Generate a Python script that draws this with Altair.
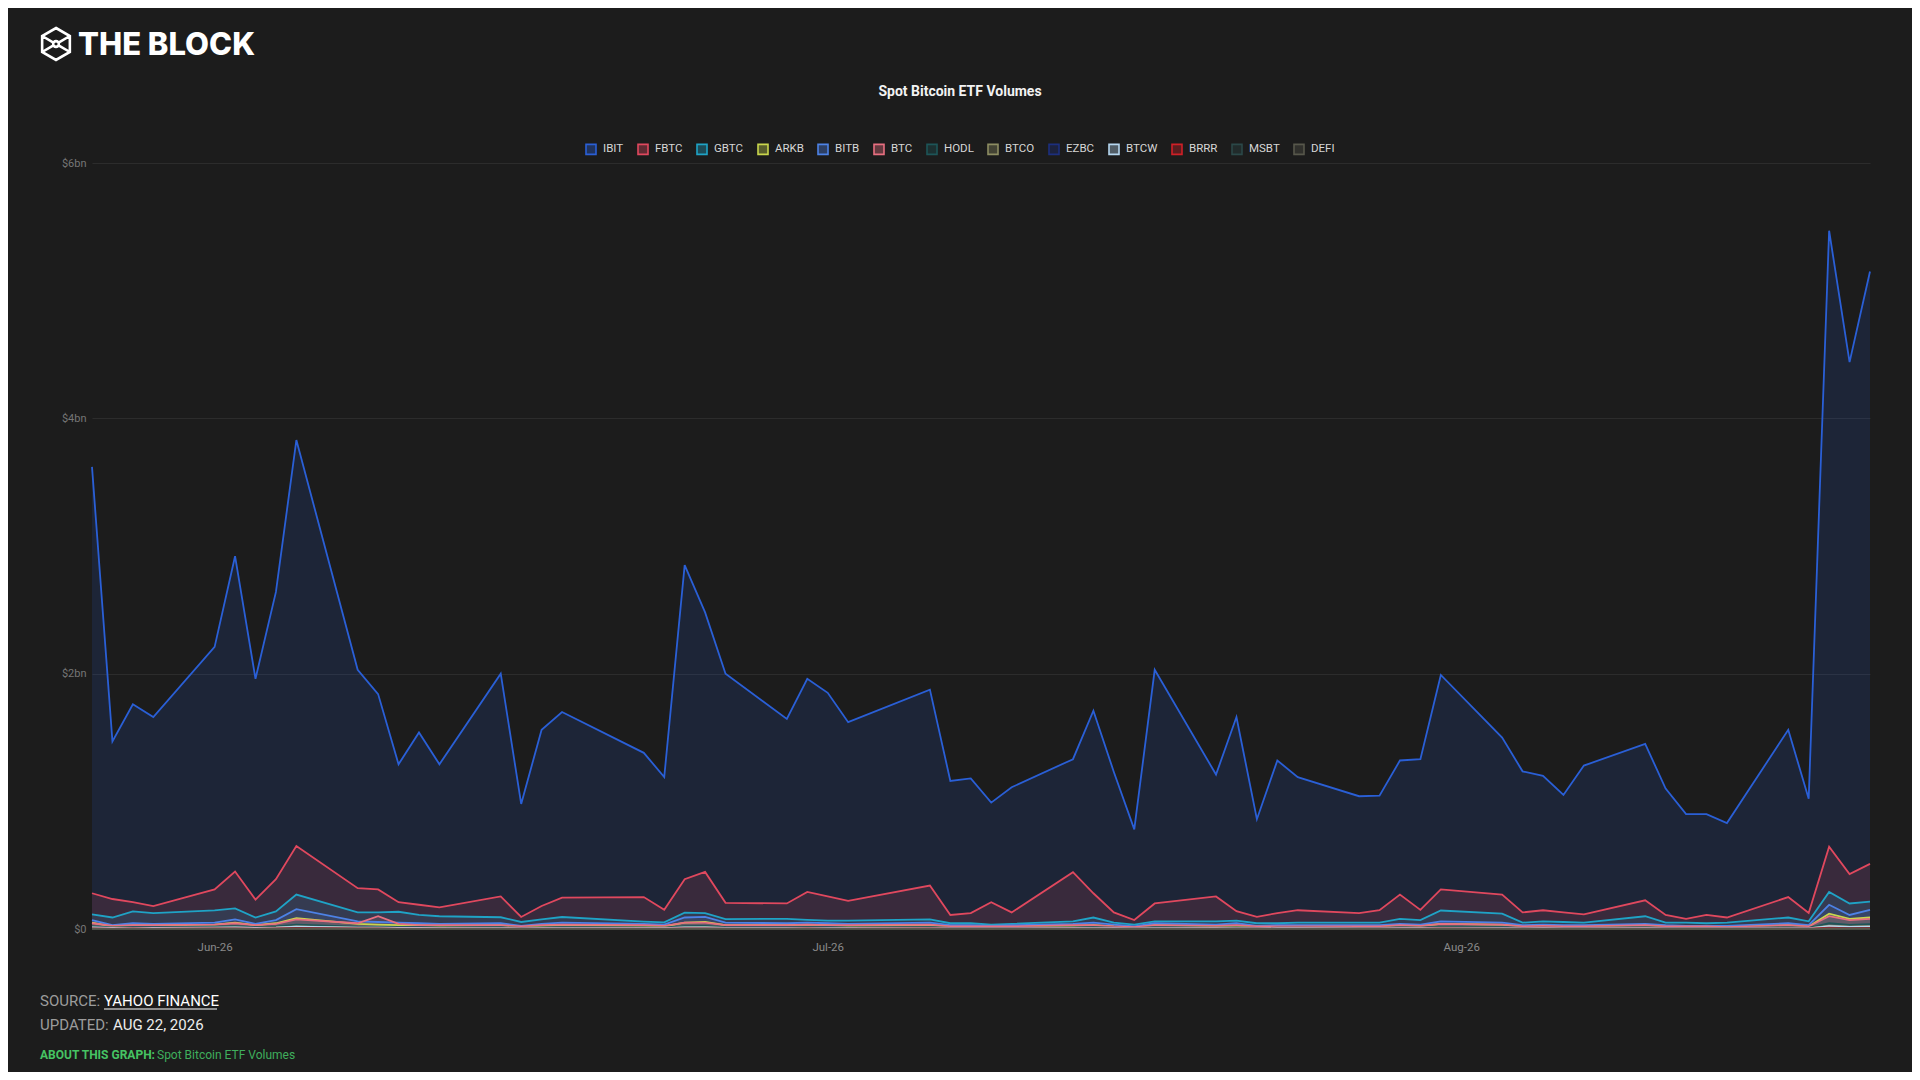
import altair as alt
import pandas as pd

# ---------------- data (values in $bn) ----------------
dates = [
    "2026-05-26", "2026-05-27", "2026-05-28", "2026-05-29",
    "2026-06-01", "2026-06-02", "2026-06-03", "2026-06-04", "2026-06-05",
    "2026-06-08", "2026-06-09", "2026-06-10", "2026-06-11", "2026-06-12",
    "2026-06-15", "2026-06-16", "2026-06-17", "2026-06-18",
    "2026-06-22", "2026-06-23", "2026-06-24", "2026-06-25", "2026-06-26",
    "2026-06-29", "2026-06-30",
    "2026-07-01", "2026-07-02",
    "2026-07-06", "2026-07-07", "2026-07-08", "2026-07-09", "2026-07-10",
    "2026-07-13", "2026-07-14", "2026-07-15", "2026-07-16", "2026-07-17",
    "2026-07-20", "2026-07-21", "2026-07-22", "2026-07-23", "2026-07-24",
    "2026-07-27", "2026-07-28", "2026-07-29", "2026-07-30", "2026-07-31",
    "2026-08-03", "2026-08-04", "2026-08-05", "2026-08-06", "2026-08-07",
    "2026-08-10", "2026-08-11", "2026-08-12", "2026-08-13", "2026-08-14",
    "2026-08-17", "2026-08-18", "2026-08-19", "2026-08-20", "2026-08-21",
]

etfs = ["IBIT", "FBTC", "GBTC", "ARKB", "BITB", "BTC", "HODL",
        "BTCO", "EZBC", "BTCW", "BRRR", "MSBT", "DEFI"]
colors = ["#2a5fd6", "#e0485e", "#1fa3c6", "#c9d64c", "#4d82e6", "#e86f80", "#1d5558",
          "#8d8d62", "#1c2f7e", "#b5d6ef", "#cf2027", "#2b4848", "#57574b"]

ibit = [3.62, 1.47, 1.76, 1.66,
        2.21, 2.92, 1.96, 2.64, 3.83,
        2.03, 1.84, 1.29, 1.54, 1.29,
        2.00, 0.98, 1.56, 1.70,
        1.38, 1.19, 2.85, 2.48, 2.00,
        1.645, 1.96,
        1.85, 1.62,
        1.875, 1.16, 1.18, 0.99, 1.11,
        1.33, 1.71, 1.23, 0.78, 2.03,
        1.21, 1.66, 0.86, 1.32, 1.19,
        1.04, 1.045, 1.32, 1.33, 1.99,
        1.50, 1.235, 1.20, 1.05, 1.28,
        1.45, 1.10, 0.90, 0.90, 0.83,
        1.56, 1.02, 5.47, 4.44, 5.15]

fbtc = [0.28, 0.235, 0.21, 0.18,
        0.31, 0.45, 0.23, 0.39, 0.65,
        0.32, 0.31, 0.21, 0.19, 0.17,
        0.255, 0.094, 0.18, 0.245,
        0.25, 0.15, 0.39, 0.447, 0.205,
        0.20, 0.29,
        0.255, 0.22,
        0.34, 0.11, 0.125, 0.21, 0.13,
        0.445, 0.28, 0.13, 0.07, 0.20,
        0.255, 0.14, 0.095, 0.125, 0.147,
        0.125, 0.147, 0.27, 0.15, 0.31,
        0.27, 0.13, 0.147, 0.13, 0.115,
        0.225, 0.11, 0.08, 0.11, 0.09,
        0.25, 0.125, 0.645, 0.43, 0.51]

gbtc = [0.115, 0.09, 0.138, 0.125,
        0.146, 0.162, 0.09, 0.138, 0.27,
        0.13, 0.13, 0.135, 0.11, 0.10,
        0.092, 0.055, 0.075, 0.094,
        0.058, 0.052, 0.128, 0.125, 0.078,
        0.08, 0.072,
        0.066, 0.065,
        0.075, 0.045, 0.045, 0.035, 0.04,
        0.06, 0.09, 0.05, 0.035, 0.06,
        0.06, 0.065, 0.045, 0.045, 0.05,
        0.05, 0.05, 0.08, 0.07, 0.145,
        0.12, 0.05, 0.06, 0.055, 0.05,
        0.10, 0.05, 0.05, 0.045, 0.05,
        0.09, 0.06, 0.29, 0.20, 0.215]

arkb = [0.05, 0.02, 0.03, 0.03,
        0.035, 0.05, 0.03, 0.045, 0.085,
        0.04, 0.035, 0.03, 0.03, 0.025,
        0.03, 0.015, 0.025, 0.03,
        0.025, 0.02, 0.05, 0.055, 0.03,
        0.03, 0.035,
        0.03, 0.025,
        0.03, 0.02, 0.02, 0.015, 0.02,
        0.025, 0.03, 0.02, 0.015, 0.03,
        0.02, 0.025, 0.015, 0.02, 0.02,
        0.02, 0.02, 0.03, 0.025, 0.04,
        0.035, 0.02, 0.02, 0.02, 0.02,
        0.03, 0.02, 0.015, 0.015, 0.015,
        0.03, 0.02, 0.12, 0.08, 0.09]

bitb = [0.07, 0.03, 0.045, 0.04,
        0.05, 0.075, 0.04, 0.07, 0.155,
        0.06, 0.055, 0.05, 0.045, 0.04,
        0.045, 0.025, 0.04, 0.05,
        0.04, 0.035, 0.09, 0.095, 0.05,
        0.045, 0.05,
        0.045, 0.04,
        0.05, 0.03, 0.03, 0.025, 0.03,
        0.04, 0.05, 0.035, 0.02, 0.045,
        0.035, 0.045, 0.025, 0.03, 0.03,
        0.03, 0.03, 0.04, 0.035, 0.06,
        0.05, 0.03, 0.035, 0.03, 0.03,
        0.04, 0.03, 0.025, 0.025, 0.025,
        0.045, 0.03, 0.19, 0.11, 0.15]

btc = [0.045, 0.025, 0.03, 0.03,
       0.035, 0.045, 0.03, 0.04, 0.075,
       0.045, 0.10, 0.04, 0.03, 0.03,
       0.03, 0.02, 0.03, 0.035,
       0.03, 0.025, 0.05, 0.05, 0.03,
       0.03, 0.035,
       0.03, 0.03,
       0.035, 0.02, 0.02, 0.02, 0.02,
       0.03, 0.03, 0.02, 0.015, 0.03,
       0.025, 0.03, 0.02, 0.02, 0.02,
       0.02, 0.02, 0.03, 0.025, 0.04,
       0.035, 0.02, 0.025, 0.02, 0.02,
       0.03, 0.02, 0.02, 0.02, 0.015,
       0.03, 0.02, 0.10, 0.07, 0.08]

hodl = [0.02, 0.012, 0.015, 0.014,
        0.018, 0.022, 0.014, 0.02, 0.035,
        0.018, 0.017, 0.014, 0.014, 0.012,
        0.014, 0.008, 0.012, 0.014,
        0.012, 0.01, 0.022, 0.024, 0.014,
        0.013, 0.015,
        0.014, 0.012,
        0.015, 0.009, 0.009, 0.008, 0.009,
        0.012, 0.014, 0.01, 0.007, 0.014,
        0.01, 0.012, 0.008, 0.01, 0.01,
        0.009, 0.009, 0.012, 0.011, 0.016,
        0.014, 0.009, 0.01, 0.009, 0.009,
        0.012, 0.009, 0.008, 0.008, 0.007,
        0.013, 0.009, 0.045, 0.032, 0.038]

btco = [0.012, 0.007, 0.009, 0.008,
        0.01, 0.013, 0.008, 0.012, 0.02,
        0.011, 0.01, 0.008, 0.008, 0.007,
        0.008, 0.005, 0.007, 0.008,
        0.007, 0.006, 0.013, 0.014, 0.008,
        0.008, 0.009,
        0.008, 0.007,
        0.009, 0.005, 0.005, 0.005, 0.005,
        0.007, 0.008, 0.006, 0.004, 0.008,
        0.006, 0.007, 0.005, 0.006, 0.006,
        0.005, 0.005, 0.007, 0.006, 0.01,
        0.008, 0.005, 0.006, 0.005, 0.005,
        0.007, 0.005, 0.005, 0.005, 0.004,
        0.008, 0.005, 0.026, 0.019, 0.022]

ezbc = [0.006, 0.004, 0.005, 0.004,
        0.005, 0.007, 0.004, 0.006, 0.011,
        0.006, 0.005, 0.004, 0.004, 0.004,
        0.004, 0.003, 0.004, 0.004,
        0.004, 0.003, 0.007, 0.007, 0.004,
        0.004, 0.005,
        0.004, 0.004,
        0.005, 0.003, 0.003, 0.003, 0.003,
        0.004, 0.004, 0.003, 0.002, 0.004,
        0.003, 0.004, 0.003, 0.003, 0.003,
        0.003, 0.003, 0.004, 0.003, 0.005,
        0.004, 0.003, 0.003, 0.003, 0.003,
        0.004, 0.003, 0.003, 0.003, 0.002,
        0.004, 0.003, 0.014, 0.010, 0.012]

btcw = [0.012, 0.008, 0.009, 0.009,
        0.01, 0.012, 0.008, 0.011, 0.018,
        0.01, 0.01, 0.008, 0.008, 0.007,
        0.008, 0.005, 0.007, 0.008,
        0.007, 0.006, 0.012, 0.012, 0.008,
        0.008, 0.008,
        0.008, 0.007,
        0.008, 0.005, 0.005, 0.005, 0.005,
        0.007, 0.008, 0.006, 0.004, 0.008,
        0.006, 0.007, 0.005, 0.006, 0.006,
        0.005, 0.005, 0.007, 0.006, 0.009,
        0.008, 0.005, 0.006, 0.005, 0.005,
        0.007, 0.005, 0.005, 0.005, 0.004,
        0.007, 0.005, 0.022, 0.016, 0.019]

brrr = [0.005, 0.003, 0.004, 0.003,
        0.004, 0.005, 0.003, 0.005, 0.008,
        0.004, 0.004, 0.003, 0.003, 0.003,
        0.003, 0.002, 0.003, 0.003,
        0.003, 0.002, 0.005, 0.005, 0.003,
        0.003, 0.004,
        0.003, 0.003,
        0.004, 0.002, 0.002, 0.002, 0.002,
        0.003, 0.003, 0.002, 0.002, 0.003,
        0.002, 0.003, 0.002, 0.002, 0.002,
        0.002, 0.002, 0.003, 0.003, 0.004,
        0.003, 0.002, 0.002, 0.002, 0.002,
        0.003, 0.002, 0.002, 0.002, 0.002,
        0.003, 0.002, 0.010, 0.007, 0.008]

msbt = [0.002, 0.001, 0.002, 0.001,
        0.002, 0.002, 0.001, 0.002, 0.004,
        0.002, 0.002, 0.001, 0.001, 0.001,
        0.002, 0.001, 0.001, 0.002,
        0.001, 0.001, 0.003, 0.003, 0.002,
        0.002, 0.002,
        0.002, 0.001,
        0.002, 0.001, 0.001, 0.001, 0.001,
        0.001, 0.002, 0.001, 0.001, 0.002,
        0.001, 0.002, 0.001, 0.001, 0.001,
        0.001, 0.001, 0.001, 0.001, 0.002,
        0.002, 0.001, 0.001, 0.001, 0.001,
        0.001, 0.001, 0.001, 0.001, 0.001,
        0.002, 0.001, 0.005, 0.004, 0.004]

defi = [0.0004, 0.0002, 0.0003, 0.0002,
        0.0003, 0.0004, 0.0002, 0.0003, 0.0006,
        0.0003, 0.0003, 0.0002, 0.0002, 0.0002,
        0.0003, 0.0001, 0.0002, 0.0002,
        0.0002, 0.0002, 0.0004, 0.0004, 0.0002,
        0.0002, 0.0003,
        0.0002, 0.0002,
        0.0003, 0.0002, 0.0002, 0.0001, 0.0002,
        0.0002, 0.0002, 0.0002, 0.0001, 0.0003,
        0.0002, 0.0002, 0.0001, 0.0002, 0.0002,
        0.0002, 0.0002, 0.0002, 0.0002, 0.0003,
        0.0002, 0.0002, 0.0002, 0.0002, 0.0001,
        0.0002, 0.0002, 0.0001, 0.0001, 0.0001,
        0.0002, 0.0002, 0.0008, 0.0005, 0.0006]

series = {"IBIT": ibit, "FBTC": fbtc, "GBTC": gbtc, "ARKB": arkb, "BITB": bitb,
          "BTC": btc, "HODL": hodl, "BTCO": btco, "EZBC": ezbc, "BTCW": btcw,
          "BRRR": brrr, "MSBT": msbt, "DEFI": defi}

y_ticks = [0, 2, 4, 6]
x_ticks = ["2026-06-01", "2026-07-01", "2026-08-01"]

rows = []
for name in etfs:
    for d, v in zip(dates, series[name]):
        rows.append({"date": d, "ETF": name, "volume": v})
df = pd.DataFrame(rows)


def ms(s):
    return int(pd.Timestamp(s, tz="UTC").value // 1_000_000)


FONT = "Roboto"
BG = "#1c1c1c"

x_enc = alt.X(
    "date:T",
    scale=alt.Scale(type="utc", domain=[ms(dates[0]), ms(dates[-1])], nice=False),
    axis=alt.Axis(values=[ms(t) for t in x_ticks], format="%b-%y", title=None,
                  labelColor="#8a8a8a", labelFontSize=11.5, labelFont=FONT,
                  ticks=False, domain=False, grid=False, labelPadding=12),
)
y_enc = alt.Y(
    "volume:Q", stack=None,
    scale=alt.Scale(domain=[0, 6], nice=False),
    axis=alt.Axis(values=y_ticks, title=None,
                  labelExpr="datum.value == 0 ? '$0' : '$' + datum.value + 'bn'",
                  labelColor="#767676", labelFontSize=11, labelFont=FONT,
                  ticks=False, domain=False, grid=True, gridColor="#2c2c2c",
                  labelPadding=6),
)
color_scale = alt.Scale(domain=etfs, range=colors)

LEG = dict(orient="none", direction="horizontal", legendX=493, legendY=-20,
           title=None, symbolType="square", symbolSize=100, symbolStrokeWidth=1.6,
           labelFontSize=11.5, labelFont=FONT, labelColor="#d6d6d6",
           columnPadding=10, labelOffset=6)

area = alt.Chart(df).mark_area(fillOpacity=0.15).encode(
    x=x_enc, y=y_enc,
    fill=alt.Fill("ETF:N", scale=color_scale, sort=etfs,
                  legend=alt.Legend(symbolOpacity=0.35, symbolStrokeColor="transparent",
                                    labelOpacity=0, **LEG)),
)
line = alt.Chart(df).mark_line(strokeWidth=1.8).encode(
    x=x_enc, y=y_enc,
    stroke=alt.Stroke("ETF:N", scale=color_scale, sort=etfs,
                      legend=alt.Legend(symbolFillColor="transparent", **LEG)),
)

one = pd.DataFrame({"k": [0]})


def txt(text, x, y, size, color, weight="normal", font=FONT, align="left"):
    return alt.Chart(one).mark_text(
        text=text, align=align, baseline="alphabetic", fontSize=size,
        font=font, fontWeight=weight, color=color,
    ).encode(x=alt.value(x), y=alt.value(y))


logo_path = ("M0,-1L0.866,-0.5L0.866,0.5L0,1L-0.866,0.5L-0.866,-0.5Z"
             "M-0.866,-0.5L-0.16,-0.09M0.866,-0.5L0.16,-0.09"
             "M-0.866,0.5L-0.16,0.09M0.866,0.5L0.16,0.09"
             "M0.18,0A0.18,0.18 0 1,1 -0.18,0A0.18,0.18 0 1,1 0.18,0")
logo_icon = alt.Chart(one).mark_point(
    shape=logo_path, size=1024, filled=False, stroke="#ffffff", strokeWidth=2.6, opacity=1,
).encode(x=alt.value(-36), y=alt.value(-119))

logo_text = txt("THE BLOCK", -14, -108, 31, "#ffffff", weight=800, font="Inter")
title = txt("Spot Bitcoin ETF Volumes", 868, -67, 14, "#f2f2f2", weight="bold", align="center")

src1 = txt("SOURCE:", -52, 843, 15, "#9c9c9c")
src2 = txt("YAHOO FINANCE", 12, 843, 15, "#ffffff")
underline = alt.Chart(one).mark_rule(color="#ffffff", strokeWidth=1).encode(
    x=alt.value(12), x2=alt.value(125), y=alt.value(846))
upd1 = txt("UPDATED:", -52, 867, 15, "#9c9c9c")
upd2 = txt("AUG 22, 2026", 21, 867, 15, "#ededed")
abt1 = txt("ABOUT THIS GRAPH:", -52, 896, 12, "#46c463", weight="bold")
abt2 = txt("Spot Bitcoin ETF Volumes", 65, 896, 12, "#3fae5c")

chart = alt.layer(
    area, line, logo_icon, logo_text, title,
    src1, src2, underline, upd1, upd2, abt1, abt2,
).resolve_legend(fill="independent", stroke="independent").properties(
    width=1778, height=766,
    autosize=alt.AutoSizeParams(type="none"),
    padding={"left": 84, "top": 155, "right": 42, "bottom": 143},
    background=BG,
).configure(font=FONT).configure_view(strokeWidth=0, stroke="transparent")

chart.save("out.html", embed_options={"renderer": "svg", "actions": False})
